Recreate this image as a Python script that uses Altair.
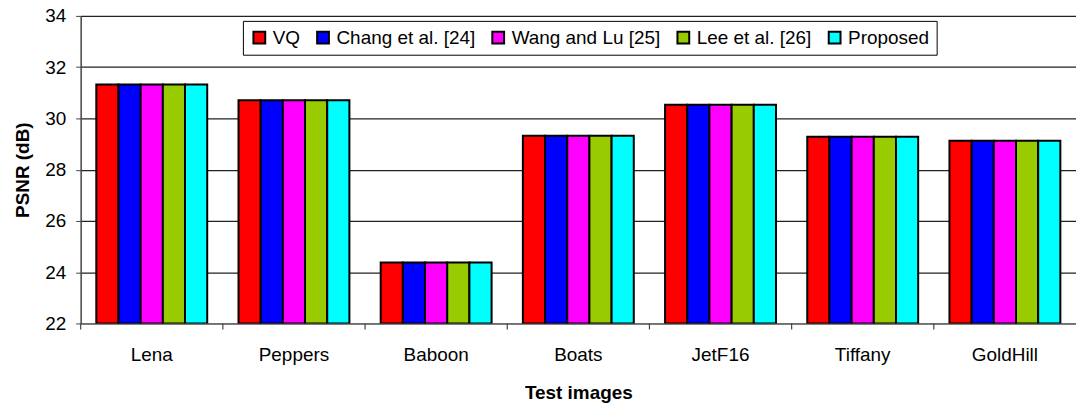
import altair as alt
import pandas as pd

images = ["Lena", "Peppers", "Baboon", "Boats", "JetF16", "Tiffany", "GoldHill"]
methods = ["VQ", "Chang et al. [24]", "Wang and Lu [25]", "Lee et al. [26]", "Proposed"]
colors = ["#FF0000", "#0000FF", "#FF00FF", "#99CC00", "#00FFFF"]

vq = [31.32, 30.71, 24.38, 29.32, 30.53, 29.28, 29.13]
chang = [31.32, 30.71, 24.38, 29.32, 30.53, 29.28, 29.13]
wang = [31.32, 30.71, 24.38, 29.32, 30.53, 29.28, 29.13]
lee = [31.32, 30.71, 24.38, 29.32, 30.53, 29.28, 29.13]
proposed = [31.32, 30.71, 24.38, 29.32, 30.53, 29.28, 29.13]

series = [vq, chang, wang, lee, proposed]
rows = []
for m, vals in zip(methods, series):
    for img, v in zip(images, vals):
        rows.append({"image": img, "method": m, "psnr": v})
df = pd.DataFrame(rows)

FONT = "Liberation Sans"

xscale = alt.Scale(domain=images, paddingInner=0.22, paddingOuter=0.11)

bars = alt.Chart(df).mark_bar(stroke="black", strokeWidth=2, clip=True).encode(
    x=alt.X("image:N", scale=xscale, sort=images,
            axis=alt.Axis(title="Test images", labelAngle=0, ticks=False,
                          labelFontSize=19, labelFont=FONT, labelColor="black",
                          labelPadding=22, titleFont=FONT, titleFontSize=19,
                          titleFontWeight="bold", titlePadding=19, titleColor="black",
                          domainColor="#777", domainWidth=1.5)),
    xOffset=alt.XOffset("method:N", sort=methods, scale=alt.Scale(domain=methods)),
    y=alt.Y("psnr:Q", scale=alt.Scale(domain=[22, 34], nice=False, zero=False),
            axis=alt.Axis(title="PSNR (dB)", values=[22, 24, 26, 28, 30, 32, 34],
                          labelFontSize=19, labelFont=FONT, labelColor="black",
                          labelPadding=10, tickSize=5, tickColor="#444",
                          gridColor="#222", gridWidth=1.2,
                          domainColor="#444", domainWidth=1.5,
                          titleFont=FONT, titleFontSize=19, titleFontWeight="bold",
                          titlePadding=12, titleColor="black")),
    y2=alt.datum(22),
    color=alt.Color("method:N", sort=methods,
                    scale=alt.Scale(domain=methods, range=colors),
                    legend=alt.Legend(title=None, orient="none", legendX=163, legendY=5,
                                      direction="horizontal", columns=5,
                                      symbolType="square", symbolSize=140,
                                      symbolStrokeColor="black", symbolStrokeWidth=2,
                                      symbolOpacity=1,
                                      labelFontSize=19, labelFont=FONT, labelColor="black",
                                      labelOffset=4, columnPadding=12,
                                      strokeColor="black", fillColor="white",
                                      padding=7)),
)

tick_df = pd.DataFrame({"image": images})
ticks = alt.Chart(tick_df).mark_rule(color="#444", strokeWidth=1.2, xOffset=-15.7).encode(
    x=alt.X("image:N", scale=xscale, sort=images, bandPosition=0),
    y=alt.value(309),
    y2=alt.value(315),
)

chart = alt.layer(bars, ticks).properties(
    width=1000, height=309,
    padding={"left": 73, "top": 7, "right": 0, "bottom": 81},
    autosize=alt.AutoSizeParams(type="none"),
).configure_view(stroke=None).configure_axis(grid=True).configure_axisX(grid=False)

chart.save("out.html", embed_options={"renderer": "svg", "actions": False})
